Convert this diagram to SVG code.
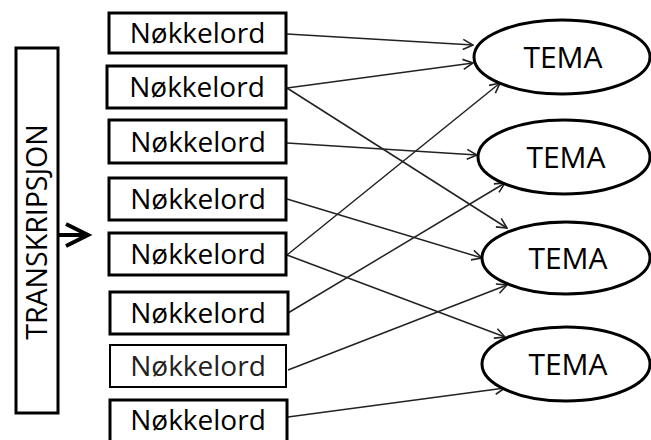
<svg xmlns="http://www.w3.org/2000/svg" width="651" height="440" viewBox="0 0 651 440">
<style>
.box{fill:#fff;stroke:#000;stroke-width:3}
.ell{fill:#fff;stroke:#000;stroke-width:3}
.t{font-family:"Open Sans","Liberation Sans",sans-serif;font-size:28px;fill:#000;text-anchor:middle}
.tm{font-size:30px}
.c{fill:none;stroke:#222;stroke-width:1.5;marker-end:url(#ah)}
</style>
<defs>
<marker id="ah" markerUnits="userSpaceOnUse" viewBox="0 0 12 12" markerWidth="12" markerHeight="12" refX="11" refY="6" orient="auto">
<path d="M1,1 L11,6 L1,11" fill="none" stroke="#222" stroke-width="1.6"/>
</marker>
</defs>
<rect width="651" height="440" fill="#fff"/>
<g id="connectors">
<line class="c" x1="287" y1="34" x2="473" y2="45"/>
<line class="c" x1="287" y1="88" x2="473" y2="63"/>
<line class="c" x1="287" y1="88" x2="507" y2="228"/>
<line class="c" x1="287" y1="143" x2="477" y2="155"/>
<line class="c" x1="287" y1="199" x2="482" y2="258"/>
<line class="c" x1="287" y1="255" x2="500" y2="83"/>
<line class="c" x1="287" y1="255" x2="505" y2="337"/>
<line class="c" x1="288" y1="313" x2="505" y2="183"/>
<line class="c" x1="288" y1="370" x2="507" y2="285"/>
<line class="c" x1="288" y1="417" x2="505" y2="388"/>
</g>
<g id="transkripsjon">
<rect class="box" x="16" y="48" width="42" height="365"/>
<text class="t" transform="translate(47,232) rotate(-90)" style="font-size:28.5px">TRANSKRIPSJON</text>
</g>
<g id="input-arrow">
<line x1="58" y1="235" x2="88" y2="235" stroke="#000" stroke-width="4"/>
<path d="M66,224 L88,235 L66,246" fill="none" stroke="#000" stroke-width="4"/>
</g>
<g id="k1"><rect class="box" x="109" y="13" width="177" height="40"/><text class="t" x="197.5" y="43">Nøkkelord</text></g>
<g id="k2"><rect class="box" x="107" y="66" width="179" height="42"/><text class="t" x="197" y="97">Nøkkelord</text></g>
<g id="k3"><rect class="box" x="109" y="120" width="177" height="43"/><text class="t" x="198" y="152">Nøkkelord</text></g>
<g id="k4"><rect class="box" x="109" y="178" width="177" height="42"/><text class="t" x="198" y="209">Nøkkelord</text></g>
<g id="k5"><rect class="box" x="109" y="233" width="177" height="42"/><text class="t" x="198" y="264">Nøkkelord</text></g>
<g id="k6"><rect class="box" x="110" y="292" width="178" height="42"/><text class="t" x="198" y="323">Nøkkelord</text></g>
<g id="k7"><rect class="box" x="110" y="345" width="176" height="42" style="stroke-width:2"/><text class="t" x="198" y="376" style="fill:#222">Nøkkelord</text></g>
<g id="k8"><rect class="box" x="110" y="400" width="177" height="44"/><text class="t" x="198" y="430">Nøkkelord</text></g>
<g id="tema1"><ellipse class="ell" cx="562" cy="57" rx="88" ry="37"/><text class="t tm" x="563" y="68">TEMA</text></g>
<g id="tema2"><ellipse class="ell" cx="564" cy="157" rx="86" ry="37"/><text class="t tm" x="566" y="168">TEMA</text></g>
<g id="tema3"><ellipse class="ell" cx="566" cy="258" rx="84" ry="36"/><text class="t tm" x="568" y="269">TEMA</text></g>
<g id="tema4"><ellipse class="ell" cx="566" cy="364" rx="84" ry="37"/><text class="t tm" x="568" y="375">TEMA</text></g>
</svg>
